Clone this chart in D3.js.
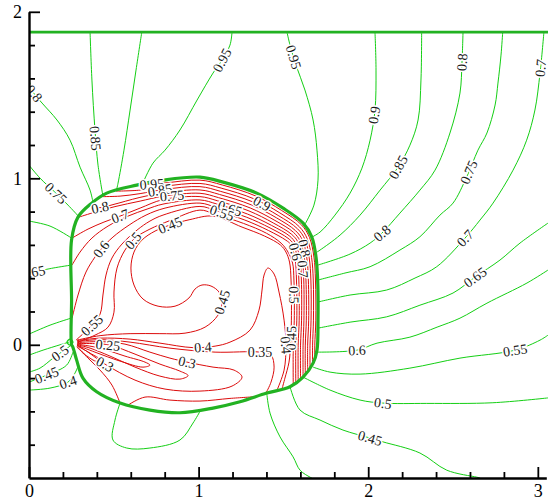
<!DOCTYPE html>
<html>
<head>
<meta charset="utf-8">
<script src="https://cdn.jsdelivr.net/npm/d3@7"></script>
<style>
  html, body { margin: 0; padding: 0; background: #fff; }
  svg { display: block; }
</style>
</head>
<body>
<svg id="chart" width="548" height="501"></svg>
<script>
// ---- Axis ticks ----
const xMajorTicks = [0, 1, 2, 3];
const yMajorTicks = [0, 1, 2];
const xMinorTicks = [0.2, 0.4, 0.6, 0.8, 1.2, 1.4, 1.6, 1.8, 2.2, 2.4, 2.6, 2.8];
const yMinorTicks = [-0.6, -0.4, -0.2, 0.2, 0.4, 0.6, 0.8, 1.2, 1.4, 1.6, 1.8];

// ---- Boundaries ----
const bodyOutline = [[0.251,0],[0.251,0.27],[0.251,0.63],[0.289,0.767],[0.370,0.851],[0.458,0.911],[0.635,0.959],[0.790,0.989],[1.008,1.007],[1.144,0.977],[1.343,0.911],[1.498,0.821],[1.616,0.731],[1.667,0.649],[1.692,0.529],[1.702,0.389],[1.704,0.148],[1.698,-0.032],[1.675,-0.110],[1.616,-0.194],[1.539,-0.252],[1.402,-0.290],[1.244,-0.342],[1.085,-0.380],[0.890,-0.408],[0.713,-0.392],[0.537,-0.350],[0.399,-0.282],[0.318,-0.200],[0.281,-0.092],[0.258,-0.012]];
const topBoundary = [[0, 1.878], [3.06, 1.878]];

// ---- Outer field contours (green) ----
const g080L = [[0,1.590],[0.024,1.518],[0.077,1.452],[0.165,1.350],[0.242,1.229],[0.301,1.067],[0.360,0.929],[0.377,0.857]];
const g085L = [[0.360,1.878],[0.371,1.590],[0.389,1.290],[0.407,1.079],[0.436,0.893]];
const g090L = [[0.665,1.878],[0.631,1.650],[0.596,1.410],[0.560,1.169],[0.525,0.971],[0.515,0.925]];
const g095L = [[1.197,1.878],[1.185,1.800],[1.138,1.710],[1.085,1.632],[0.991,1.470],[0.890,1.290],[0.802,1.169],[0.731,1.091],[0.668,0.964]];
const g095R = [[1.521,1.878],[1.539,1.800],[1.574,1.680],[1.627,1.530],[1.675,1.350],[1.698,1.169],[1.704,0.989],[1.680,0.839],[1.628,0.725]];
const g090R = [[2.040,1.878],[2.046,1.650],[2.040,1.410],[2.011,1.229],[1.963,1.061],[1.893,0.911],[1.804,0.779],[1.716,0.677],[1.657,0.641]];
const g085R = [[2.315,1.878],[2.311,1.590],[2.294,1.350],[2.246,1.199],[2.176,1.067],[2.070,0.929],[1.952,0.779],[1.834,0.659],[1.716,0.569],[1.698,0.557]];
const g080R = [[1.704,0.479],[1.893,0.545],[2.011,0.611],[2.081,0.671],[2.187,0.791],[2.305,0.929],[2.394,1.049],[2.482,1.272],[2.541,1.512],[2.553,1.698],[2.559,1.878]];
const g075R = [[1.704,0.389],[1.863,0.431],[2.011,0.469],[2.187,0.569],[2.305,0.649],[2.423,0.779],[2.500,0.851],[2.581,1.009],[2.647,1.169],[2.700,1.272],[2.748,1.440],[2.765,1.572],[2.783,1.740],[2.793,1.878]];
const g070R = [[1.704,0.257],[1.893,0.299],[2.109,0.329],[2.276,0.401],[2.404,0.469],[2.571,0.641],[2.659,0.749],[2.736,0.851],[2.854,1.049],[2.934,1.229],[2.983,1.410],[3.013,1.632],[3.036,1.878]];
const g065R = [[1.704,0.100],[1.893,0.136],[2.109,0.168],[2.305,0.238],[2.500,0.311],[2.630,0.407],[2.777,0.509],[2.895,0.611],[3.060,0.731]];
const g060R = [[1.698,-0.044],[1.934,-0.032],[2.052,0.010],[2.246,0.046],[2.406,0.106],[2.541,0.160],[2.700,0.250],[2.936,0.371],[3.060,0.449]];
const g055R = [[1.675,-0.134],[1.775,-0.164],[1.952,-0.176],[2.246,-0.140],[2.541,-0.080],[2.866,-0.032],[3.013,0.028],[3.060,0.058]];
const g050R = [[1.616,-0.194],[1.775,-0.272],[1.952,-0.332],[2.086,-0.350],[2.345,-0.352],[2.735,-0.348],[3.060,-0.319]];
const g045R = [[1.539,-0.252],[1.598,-0.392],[1.716,-0.452],[1.851,-0.512],[2.011,-0.560],[2.087,-0.583],[2.305,-0.650],[2.463,-0.753],[2.640,-0.795],[2.660,-0.800]];
const g040R = [[1.402,-0.292],[1.421,-0.410],[1.480,-0.553],[1.557,-0.673],[1.598,-0.753],[1.657,-0.795],[1.668,-0.800]];
const gLoop = [[0.537,-0.350],[0.507,-0.452],[0.495,-0.572],[0.576,-0.620],[0.713,-0.620],[0.890,-0.572],[0.967,-0.470],[1.008,-0.400]];
const g075L = [[0,1.079],[0.065,1.001],[0.159,0.911],[0.230,0.839],[0.292,0.772]];
const g070L = [[0,0.743],[0.124,0.713],[0.251,0.641]];
const g065L = [[0,0.431],[0.142,0.461],[0.251,0.479]];
const g060L = [[0,0.064],[0.124,0.118],[0.248,0.160]];
const g055L = [[0,-0.062],[0.083,-0.032],[0.183,0],[0.236,0.016]];
const g050L = [[0,-0.164],[0.065,-0.140],[0.142,-0.080],[0.183,-0.050],[0.242,-0.008]];
const g045L = [[0,-0.224],[0.104,-0.182],[0.222,-0.122],[0.259,-0.044]];
const g040L = [[0,-0.272],[0.124,-0.260],[0.230,-0.224],[0.271,-0.170],[0.289,-0.128]];
const gSource = [[0.224,0.016],[0.242,0.034],[0.259,0.016],[0.242,-0.002]];

// ---- Inner field contours (red) ----
const r095 = [[0.666,0.962],[0.790,0.971],[1.008,0.989],[1.139,0.960],[1.336,0.894],[1.489,0.807],[1.606,0.721],[1.654,0.644],[1.680,0.527],[1.689,0.389],[1.691,0.148],[1.685,-0.002],[1.685,-0.074]];
const r090 = [[0.513,0.923],[0.655,0.929],[0.790,0.951],[1.008,0.969],[1.133,0.941],[1.328,0.876],[1.479,0.792],[1.594,0.709],[1.640,0.638],[1.666,0.525],[1.676,0.389],[1.677,0.148],[1.672,-0.002],[1.672,-0.114]];
const r085 = [[0.436,0.890],[0.537,0.893],[0.655,0.908],[0.790,0.932],[1.008,0.950],[1.128,0.922],[1.320,0.858],[1.469,0.777],[1.583,0.697],[1.627,0.633],[1.652,0.523],[1.662,0.389],[1.663,0.148],[1.657,-0.002],[1.657,-0.135]];
const r080 = [[0.371,0.851],[0.413,0.824],[0.495,0.842],[0.649,0.884],[0.790,0.912],[1.008,0.930],[1.123,0.903],[1.312,0.840],[1.460,0.762],[1.571,0.686],[1.613,0.628],[1.638,0.521],[1.647,0.389],[1.649,0.148],[1.643,-0.002],[1.643,-0.154]];
const r075 = [[0.295,0.767],[0.389,0.797],[0.507,0.830],[0.655,0.863],[0.790,0.892],[1.008,0.910],[1.117,0.884],[1.304,0.822],[1.450,0.747],[1.560,0.675],[1.599,0.622],[1.624,0.520],[1.633,0.389],[1.635,0.148],[1.629,-0.002],[1.629,-0.175]];
const r070 = [[0.254,0.641],[0.348,0.695],[0.442,0.737],[0.537,0.773],[0.655,0.821],[0.790,0.872],[1.008,0.890],[1.111,0.865],[1.297,0.804],[1.440,0.732],[1.549,0.663],[1.586,0.617],[1.611,0.518],[1.620,0.389],[1.621,0.148],[1.616,-0.002],[1.616,-0.194]];
const r065 = [[0.254,0.479],[0.301,0.557],[0.371,0.641],[0.466,0.713],[0.584,0.773],[0.696,0.815],[0.790,0.845],[1.008,0.870],[1.106,0.846],[1.289,0.785],[1.430,0.717],[1.538,0.652],[1.571,0.611],[1.597,0.516],[1.606,0.389],[1.607,0.148],[1.601,-0.002],[1.601,-0.205]];
const r060 = [[0.254,0.160],[0.289,0.299],[0.336,0.437],[0.389,0.527],[0.425,0.575],[0.495,0.647],[0.590,0.719],[0.690,0.779],[0.802,0.821],[1.008,0.851],[1.101,0.826],[1.281,0.767],[1.421,0.702],[1.527,0.640],[1.558,0.607],[1.583,0.515],[1.591,0.389],[1.593,0.148],[1.587,-0.002],[1.587,-0.216]];
const r055 = [[0.277,0.028],[0.371,0.118],[0.419,0.184],[0.436,0.299],[0.454,0.419],[0.489,0.521],[0.548,0.605],[0.637,0.689],[0.713,0.743],[0.790,0.779],[1.008,0.831],[1.096,0.808],[1.273,0.749],[1.411,0.687],[1.515,0.628],[1.544,0.601],[1.569,0.513],[1.577,0.389],[1.579,0.148],[1.573,-0.002],[1.573,-0.226]];
const r050 = [[0.289,0.016],[0.389,0.058],[0.466,0.106],[0.501,0.196],[0.501,0.317],[0.519,0.461],[0.566,0.569],[0.625,0.641],[0.713,0.695],[0.831,0.746],[1.008,0.809],[1.090,0.787],[1.265,0.729],[1.400,0.670],[1.486,0.611],[1.527,0.557],[1.554,0.491],[1.562,0.389],[1.564,0.148],[1.558,-0.002],[1.558,-0.238]];
const r045 = [[0.283,0.028],[0.419,0.055],[0.596,0.067],[0.772,0.067],[0.920,0.070],[1.038,0.106],[1.114,0.178],[1.138,0.257],[1.120,0.317],[1.073,0.353],[1.020,0.359],[0.979,0.335],[0.943,0.281],[0.861,0.232],[0.761,0.232],[0.672,0.275],[0.619,0.359],[0.601,0.461],[0.619,0.557],[0.666,0.629],[0.743,0.683],[0.831,0.719],[0.949,0.752],[1.085,0.773],[1.256,0.707],[1.389,0.653],[1.483,0.599],[1.515,0.557],[1.536,0.497],[1.545,0.389],[1.547,0.148],[1.542,-0.002],[1.533,-0.104],[1.509,-0.200],[1.492,-0.265]];
const r040 = [[0.283,0.025],[0.419,0.040],[0.596,0.034],[0.772,0.010],[0.967,-0.017],[1.097,-0.008],[1.185,0.016],[1.303,0.088],[1.356,0.208],[1.374,0.329],[1.386,0.419],[1.409,0.461],[1.445,0.425],[1.474,0.317],[1.504,0.148],[1.515,-0.002],[1.504,-0.152],[1.462,-0.273]];
const r035 = [[0.283,0.019],[0.419,0.031],[0.596,0.016],[0.831,-0.020],[1.097,-0.044],[1.362,-0.044],[1.427,-0.062],[1.445,-0.134],[1.427,-0.224],[1.397,-0.290]];
const r030 = [[0.283,0.013],[0.419,0.019],[0.566,0.004],[0.713,-0.044],[0.831,-0.080],[0.932,-0.104],[1.085,-0.134],[1.209,-0.152],[1.256,-0.194],[1.197,-0.248],[1.008,-0.278],[0.802,-0.266],[0.625,-0.212],[0.448,-0.116],[0.348,-0.044],[0.283,-0.002]];
const r025 = [[0.283,0.007],[0.389,0.007],[0.478,-0.002],[0.625,-0.056],[0.772,-0.116],[0.890,-0.158],[0.938,-0.185],[0.890,-0.206],[0.772,-0.188],[0.625,-0.134],[0.478,-0.068],[0.360,-0.020],[0.283,0.001]];
const r020 = [[0.283,0.004],[0.419,-0.020],[0.566,-0.068],[0.684,-0.104],[0.713,-0.122],[0.672,-0.134],[0.537,-0.098],[0.389,-0.044],[0.283,-0.002]];
const r015 = [[0.283,-0.006],[0.360,-0.050],[0.420,-0.090],[0.400,-0.100],[0.340,-0.066],[0.283,-0.010]];
const rLow1 = [[0.283,-0.014],[0.348,-0.080],[0.419,-0.152],[0.489,-0.242],[0.537,-0.350]];
const rLow2 = [[0.584,-0.362],[0.684,-0.314],[0.831,-0.332],[1.008,-0.338],[1.185,-0.322],[1.333,-0.312]];

const greenOpen = [g080L, g085L, g090L, g095L, g095R, g090R, g085R, g080R, g075R, g070R, g065R, g060R, g055R, g050R, g045R, g040R, gLoop, g075L, g070L, g065L, g060L, g055L, g050L, g045L, g040L];
const redOpen = [r095, r090, r085, r080, r075, r070, r065, r060, r055, r050, r045, r040, r035, r030, r025, r020, r015, rLow1, rLow2];

// ---- Contour labels: [text, x, y] ----
const greenLabels = [
  ["0.8", 0.030, 1.510], ["0.85", 0.392, 1.240], ["0.95", 1.138, 1.710], ["0.95", 1.560, 1.728],
  ["0.9", 2.035, 1.380], ["0.85", 2.176, 1.067], ["0.8", 2.081, 0.671], ["0.8", 2.553, 1.698],
  ["0.75", 2.592, 1.037], ["0.7", 2.571, 0.641], ["0.7", 3.016, 1.662], ["0.65", 2.630, 0.407],
  ["0.6", 1.934, -0.032], ["0.55", 2.866, -0.032], ["0.5", 2.086, -0.350], ["0.45", 2.011, -0.560],
  ["0.75", 0.159, 0.911], ["0.65", 0.024, 0.436], ["0.5", 0.183, -0.050], ["0.45", 0.104, -0.182],
  ["0.4", 0.230, -0.224]
];
const redLabels = [
  ["0.95", 0.725, 0.966], ["0.85", 0.772, 0.929], ["0.75", 0.843, 0.896], ["0.8", 0.419, 0.826],
  ["0.7", 0.537, 0.773], ["0.9", 1.374, 0.850], ["0.65", 1.185, 0.820], ["0.55", 1.138, 0.794],
  ["0.6", 0.425, 0.575], ["0.5", 0.613, 0.626], ["0.45", 0.831, 0.719], ["0.8", 1.624, 0.581],
  ["0.6", 1.571, 0.559], ["0.7", 1.615, 0.455], ["0.5", 1.563, 0.300], ["0.45", 1.545, 0.040],
  ["0.4", 1.515, -0.002], ["0.45", 1.138, 0.257], ["0.4", 1.026, -0.013], ["0.35", 1.362, -0.044],
  ["0.3", 0.932, -0.104], ["0.3", 0.448, -0.116], ["0.25", 0.466, -0.001], ["0.55", 0.371, 0.118]
];

// ---- Chart ----
const svg = d3.select("#chart");
const x = d3.scaleLinear().domain([0, 3.05]).range([29, 546.3]);
const y = d3.scaleLinear().domain([-0.8, 2]).range([478, 11.8]);

const GREEN = "#14cf14";
const GREEN_DARK = "#22b222";
const RED = "#dc0b0b";

svg.append("defs").append("clipPath").attr("id", "plot-clip")
  .append("rect").attr("x", 29).attr("y", 0).attr("width", 548 - 29).attr("height", 478);

const plot = svg.append("g").attr("clip-path", "url(#plot-clip)");

const line = d3.line()
  .x(d => x(d[0])).y(d => y(d[1]))
  .curve(d3.curveCatmullRom.alpha(0.5));
const closedLine = d3.line()
  .x(d => x(d[0])).y(d => y(d[1]))
  .curve(d3.curveCatmullRomClosed.alpha(0.5));

plot.append("g").selectAll("path").data(greenOpen).join("path")
  .attr("d", line).attr("fill", "none").attr("stroke", GREEN).attr("stroke-width", 1);
plot.append("path").attr("d", closedLine(gSource))
  .attr("fill", "none").attr("stroke", GREEN).attr("stroke-width", 1.3);

plot.append("g").selectAll("path").data(redOpen).join("path")
  .attr("d", line).attr("fill", "none").attr("stroke", RED).attr("stroke-width", 1);

// Body surface and upper boundary
plot.append("path").attr("d", closedLine(bodyOutline))
  .attr("fill", "none").attr("stroke", GREEN_DARK).attr("stroke-width", 3.2);
plot.append("path").attr("d", d3.line().x(d => x(d[0])).y(d => y(d[1]))(topBoundary))
  .attr("fill", "none").attr("stroke", GREEN_DARK).attr("stroke-width", 2.6);

// Label orientation follows the nearest contour segment
function labelAngle(lines, lx, ly) {
  const px = x(lx), py = y(ly);
  let best = Infinity, ang = 0;
  for (const pts of lines) {
    for (let i = 0; i < pts.length - 1; i++) {
      const ax = x(pts[i][0]), ay = y(pts[i][1]);
      const bx = x(pts[i + 1][0]), by = y(pts[i + 1][1]);
      const dx = bx - ax, dy = by - ay;
      const len2 = dx * dx + dy * dy || 1;
      let t = ((px - ax) * dx + (py - ay) * dy) / len2;
      t = Math.max(0, Math.min(1, t));
      const cx = ax + t * dx, cy = ay + t * dy;
      const d = (px - cx) ** 2 + (py - cy) ** 2;
      if (d < best) { best = d; ang = Math.atan2(dy, dx) * 180 / Math.PI; }
    }
  }
  if (ang > 90) ang -= 180;
  if (ang <= -90) ang += 180;
  return ang;
}

function drawLabels(labels, lines) {
  plot.append("g").selectAll("text").data(labels).join("text")
    .attr("transform", d => `translate(${x(d[1])},${y(d[2])}) rotate(${labelAngle(lines, d[1], d[2])})`)
    .attr("text-anchor", "middle")
    .attr("dy", "0.35em")
    .attr("font-family", "'Liberation Serif', 'Times New Roman', serif")
    .attr("font-size", 14)
    .attr("fill", "#1a1a1a")
    .attr("stroke", "#fff")
    .attr("stroke-width", 3)
    .attr("paint-order", "stroke")
    .text(d => d[0]);
}
drawLabels(greenLabels, greenOpen);
drawLabels(redLabels, redOpen);

// ---- Axes ----
const tickFont = "'Liberation Serif', 'Times New Roman', serif";

const xAxis = svg.append("g").attr("transform", `translate(0,${y(-0.8)})`)
  .call(d3.axisBottom(x).tickValues(xMajorTicks).tickSize(-11).tickSizeOuter(0).tickPadding(6).tickFormat(d3.format("d")));
xAxis.append("g").call(d3.axisBottom(x).tickValues(xMinorTicks).tickSize(-6).tickFormat(""))
  .call(g => g.select(".domain").remove());

const yAxis = svg.append("g").attr("transform", `translate(${x(0)},0)`)
  .call(d3.axisLeft(y).tickValues(yMajorTicks).tickSize(-11).tickSizeOuter(0).tickPadding(7).tickFormat(d3.format("d")));
yAxis.append("g").call(d3.axisLeft(y).tickValues(yMinorTicks).tickSize(-6).tickFormat(""))
  .call(g => g.select(".domain").remove());

svg.selectAll(".domain").attr("stroke", "#000").attr("stroke-width", 2.4);
svg.selectAll(".tick line").attr("stroke", "#000").attr("stroke-width", 1.8);
svg.selectAll(".tick text").attr("font-family", tickFont).attr("font-size", 18).attr("fill", "#000");
</script>
</body>
</html>
